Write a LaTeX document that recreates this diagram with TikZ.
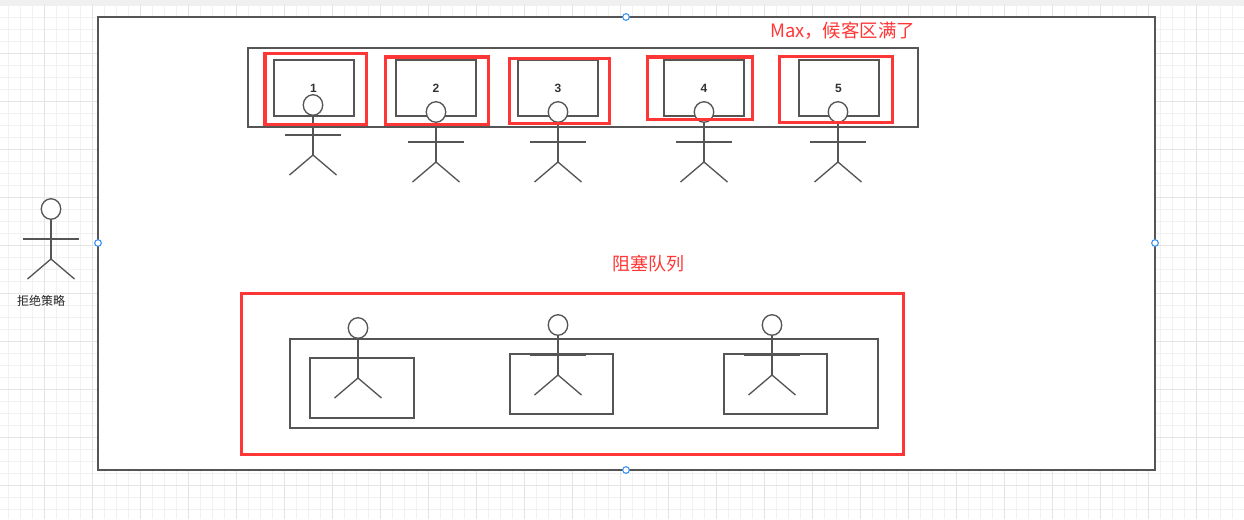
\documentclass[tikz,border=0pt]{standalone}
\usepackage{fontspec}
\usetikzlibrary{shapes.geometric}
\setmainfont{Liberation Sans}
\newfontfamily\cjk{Noto Sans CJK SC}
\definecolor{inkgray}{HTML}{555555}
\definecolor{alertred}{HTML}{FF3636}
\definecolor{gridminor}{HTML}{F1F1F1}
\definecolor{gridmajor}{HTML}{E4E4E4}
\definecolor{topband}{HTML}{F0F0F0}
\definecolor{handleblue}{HTML}{2E8BF0}
\tikzset{
  px/.style={x=0.75pt,y=-0.75pt},
  outline/.style={draw=inkgray,line width=1pt,inner sep=0pt,outer sep=0pt},
  whitebox/.style={outline,fill=white},
  alertbox/.style={draw=alertred,line width=2.3pt,inner sep=0pt,outer sep=0pt},
  actorhead/.style={draw=inkgray,line width=1pt,fill=white,ellipse,inner sep=0pt,outer sep=0pt,minimum width=14.6pt,minimum height=15.4pt},
  limb/.style={draw=inkgray,line width=1pt},
  handle/.style={circle,draw=handleblue,fill=white,line width=0.75pt,minimum size=5pt,inner sep=0pt,outer sep=0pt},
  digit/.style={font=\fontsize{9pt}{9pt}\selectfont\bfseries,text=black!80,inner sep=0pt},
  alerttext/.style={font=\cjk\fontsize{13.5pt}{13.5pt}\selectfont,text=alertred,inner sep=0pt},
  plaintext/.style={font=\cjk\fontsize{9pt}{9pt}\selectfont,text=black!85,inner sep=0pt},
}
% name, x1, y1, x2, y2, style (pixel corners)
\newcommand{\pxbox}[6]{%
  \pgfmathsetmacro{\bw}{(#4-#2)*0.75}%
  \pgfmathsetmacro{\bh}{(#5-#3)*0.75}%
  \node[#6,minimum width=\bw pt,minimum height=\bh pt] (#1) at ({(#2+#4)/2},{(#3+#5)/2}) {};%
}
% name, head centre x, head centre y
\newcommand{\actor}[3]{%
  \node[actorhead] (#1head) at (#2,#3) {};%
  \coordinate (#1hip) at (#2,#3+50);%
  \coordinate (#1armL) at (#2-28,#3+30);%
  \coordinate (#1armR) at (#2+28,#3+30);%
  \coordinate (#1footL) at (#2-23.5,#3+70);%
  \coordinate (#1footR) at (#2+23.5,#3+70);%
  \draw[limb] (#1head.south) -- (#1hip);%
  \draw[limb] (#1armL) -- (#1armR);%
  \draw[limb] (#1footL) -- (#1hip) -- (#1footR);%
}
\begin{document}
\begin{tikzpicture}[px]
\useasboundingbox (0,0) rectangle (1244,519);
\fill[white] (0,0) rectangle (1244,519);
% grid
\foreach \gx in {0,...,103} {\draw[gridminor,line width=0.75pt] ({8.5+12*\gx},5) -- ({8.5+12*\gx},519);}
\foreach \gy in {0,...,42} {\draw[gridminor,line width=0.75pt] (0,{5+12*\gy}) -- (1244,{5+12*\gy});}
\foreach \gx in {0,...,25} {\draw[gridmajor,line width=0.75pt] ({44.5+48*\gx},5) -- ({44.5+48*\gx},519);}
\foreach \gy in {1,...,10} {\draw[gridmajor,line width=0.75pt] (0,{5+48*\gy}) -- (1244,{5+48*\gy});}
\fill[topband] (0,0) rectangle (1244,5);
% frame
\pxbox{frame}{98}{17}{1155}{470}{whitebox}
% top container
\pxbox{waitarea}{248}{48}{918}{127}{outline}
\pxbox{seatA}{274}{60}{354}{116}{outline}
\pxbox{seatB}{396}{60}{476}{116}{outline}
\pxbox{seatC}{518}{60}{598}{116}{outline}
\pxbox{seatD}{664}{60}{744}{116}{outline}
\pxbox{seatE}{799}{60}{879}{116}{outline}
\node[digit] (numA) at (313.5,88.5) {1};
\node[digit] (numB) at (436,88.5) {2};
\node[digit] (numC) at (558,88.5) {3};
\node[digit] (numD) at (704,88.5) {4};
\node[digit] (numE) at (838.5,88.5) {5};
\actor{pA}{313}{105}
\actor{pB}{436}{112}
\actor{pC}{558}{112}
\actor{pD}{704}{112}
\actor{pE}{838}{112}
% rejected actor
\actor{reject}{51}{209}
\node[plaintext] (rejectlabel) at (41,301) {拒绝策略};
% bottom queue
\pxbox{queue}{290}{339}{878}{428}{outline}
\pxbox{slotA}{310}{358}{414}{418}{outline}
\pxbox{slotB}{510}{354}{613}{414}{outline}
\pxbox{slotC}{724}{354}{827}{414}{outline}
\actor{qA}{358}{328}
\actor{qB}{558}{325}
\actor{qC}{772}{325}
% red highlights
\pxbox{hlA}{265}{53.5}{366.5}{124.5}{alertbox}
\pxbox{hlB}{385.5}{57}{488.5}{124.5}{alertbox}
\pxbox{hlC}{509.5}{58.5}{609.5}{123.5}{alertbox}
\pxbox{hlD}{647.5}{57}{752.5}{119.5}{alertbox}
\pxbox{hlE}{779.5}{56.5}{892.5}{122.5}{alertbox}
\pxbox{hlQueue}{241.5}{293.5}{903.5}{454.5}{alertbox}
\node[alerttext,font=\cjk\fontsize{13.8pt}{13.8pt}\selectfont] (maxlabel) at (842.5,31) {Max，候客区满了};
\node[alerttext] (queuelabel) at (648,264) {阻塞队列};
% selection handles
\node[handle] (hN) at (626,17) {};
\node[handle] (hW) at (98,243) {};
\node[handle] (hE) at (1155,243) {};
\node[handle] (hS) at (626,470) {};
\end{tikzpicture}
\end{document}
